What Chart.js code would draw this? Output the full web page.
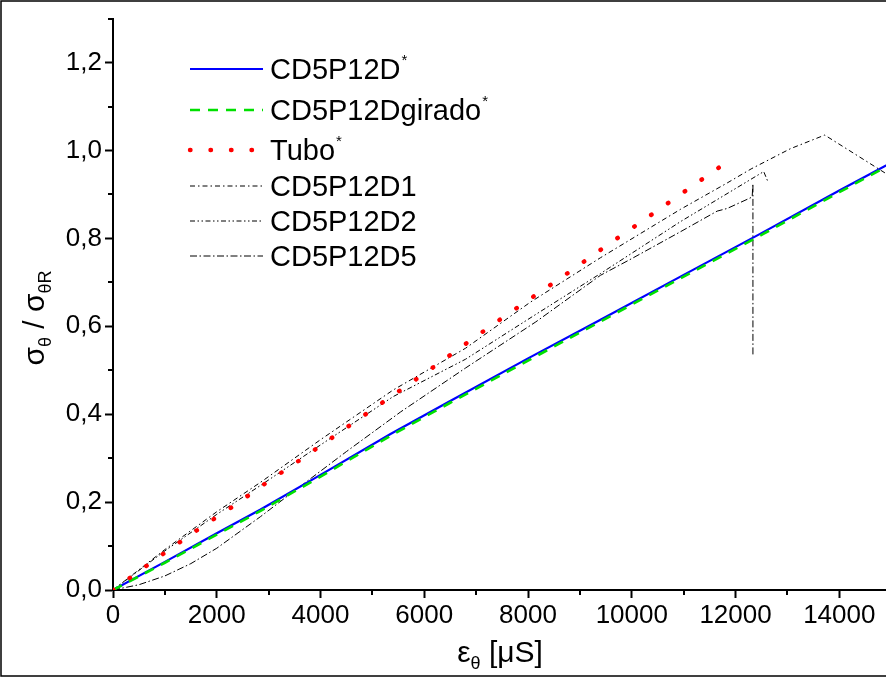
<!DOCTYPE html>
<html><head><meta charset="utf-8">
<script src="https://cdn.jsdelivr.net/npm/chart.js@4.4.1/dist/chart.umd.min.js"></script>
<style>html,body{margin:0;padding:0;background:#fff;}#wrap{position:relative;width:886px;height:677px;}</style>
</head><body><div id="wrap"><canvas id="c" width="886" height="677"></canvas></div>
<script>
// ---- data ----
const seriesNames = ["CD5P12D", "CD5P12Dgirado", "Tubo", "CD5P12D1", "CD5P12D2", "CD5P12D5"];
const starred = [true, true, true, false, false, false];

const cdX = [0, 1000, 2000, 2844, 4000, 5349, 6500, 8000, 9397, 11000, 12500, 14000, 15000];
const cdY = [0, 0.064, 0.129, 0.183, 0.262, 0.355, 0.430, 0.527, 0.615, 0.717, 0.812, 0.909, 0.972];

const giradoX = [0, 1000, 2000, 2844, 4000, 5349, 6500, 8000, 9397, 11000, 12500, 14000, 15000];
const giradoY = [0, 0.062, 0.126, 0.180, 0.258, 0.351, 0.426, 0.522, 0.611, 0.713, 0.808, 0.905, 0.969];

const tuboX = [0, 352, 1000, 1655, 2311, 2966, 3621, 4276, 4931, 5581, 6236, 6891, 7541, 8196, 8851, 9506, 10161, 10816, 11471, 11850];
const tuboY = [0, 0.030, 0.085, 0.139, 0.190, 0.245, 0.297, 0.351, 0.405, 0.458, 0.512, 0.568, 0.622, 0.675, 0.728, 0.783, 0.836, 0.890, 0.944, 0.975];

const d1X = [0, 1000, 2000, 2844, 4000, 5400, 6795, 8047, 9397, 10937, 11838, 12300, 13057, 13719, 15000];
const d1Y = [0, 0.092, 0.178, 0.245, 0.342, 0.455, 0.550, 0.655, 0.756, 0.866, 0.926, 0.958, 1.004, 1.035, 0.940];

const d2X = [0, 1000, 2000, 2844, 4000, 5400, 6795, 8150, 9397, 10937, 11770, 12543, 12620];
const d2Y = [0, 0.089, 0.172, 0.238, 0.330, 0.440, 0.525, 0.627, 0.720, 0.838, 0.897, 0.952, 0.930];

const d5X = [0, 500, 1000, 1500, 2000, 2844, 3400, 4500, 5542, 6795, 8150, 9397, 10000, 10937, 11645, 11838, 12320, 12335, 12335];
const d5Y = [0, 0.012, 0.032, 0.060, 0.095, 0.167, 0.217, 0.315, 0.405, 0.505, 0.610, 0.716, 0.754, 0.815, 0.862, 0.868, 0.894, 0.924, 0.534];

const xTicks = [0, 2000, 4000, 6000, 8000, 10000, 12000, 14000];
const xMinorTicks = [1000, 3000, 5000, 7000, 9000, 11000, 13000];
const yTicks = [0, 0.2, 0.4, 0.6, 0.8, 1.0, 1.2];
const yMinorTicks = [0.1, 0.3, 0.5, 0.7, 0.9, 1.1, 1.3];
const xMin = 0, xMax = 14900, yMin = 0, yMax = 1.3;

const pts = (xs, ys) => xs.map((x, i) => ({x: x, y: ys[i]}));

const styles = [
  {color: '#0000ff', width: 2.2, dash: [], cap: 'butt'},
  {color: '#00e000', width: 2.6, dash: [10, 8], cap: 'butt'},
  {color: '#ff0000', width: 4.4, dash: [0.5, 20], cap: 'round'},
  {color: '#000000', width: 1, dash: [5, 3, 1.5, 3], cap: 'butt'},
  {color: '#000000', width: 1, dash: [5, 2.5, 1.5, 2.5, 1.5, 2.5], cap: 'butt'},
  {color: '#000000', width: 1, dash: [7, 2.5, 1.5, 2.5], cap: 'butt'}
];
const allData = [pts(cdX, cdY), pts(giradoX, giradoY), pts(tuboX, tuboY), pts(d1X, d1Y), pts(d2X, d2Y), pts(d5X, d5Y)];
const drawOrder = [3, 4, 5, 0, 1, 2];

const datasets = drawOrder.map(i => ({
  label: seriesNames[i],
  data: allData[i],
  borderColor: styles[i].color,
  borderWidth: styles[i].width,
  borderDash: styles[i].dash,
  borderCapStyle: styles[i].cap,
  pointRadius: 0,
  fill: false,
  tension: 0,
  order: drawOrder.length - drawOrder.indexOf(i)
}));

const tickFont = {family: "'Liberation Sans Narrow', 'Liberation Sans', Arial, sans-serif", size: 26};
const legendFont = "29px 'Liberation Sans', Arial, sans-serif";

const decorations = {
  id: 'decorations',
  afterDraw(chart) {
    const ctx = chart.ctx;
    const xs = chart.scales.x, ys = chart.scales.y;
    ctx.save();
    // minor ticks
    ctx.strokeStyle = '#000'; ctx.lineWidth = 2; ctx.setLineDash([]);
    const bottom = chart.chartArea.bottom, left = chart.chartArea.left;
    xMinorTicks.forEach(v => {
      const px = Math.round(xs.getPixelForValue(v));
      ctx.beginPath(); ctx.moveTo(px, bottom); ctx.lineTo(px, bottom + 5); ctx.stroke();
    });
    yMinorTicks.forEach(v => {
      const py = Math.round(ys.getPixelForValue(v));
      ctx.beginPath(); ctx.moveTo(left, py); ctx.lineTo(left - 5, py); ctx.stroke();
    });
    // legend
    const rows = [69, 110, 150, 186, 221, 256];
    for (let i = 0; i < seriesNames.length; i++) {
      const st = styles[i], y = rows[i];
      ctx.strokeStyle = st.color; ctx.lineWidth = st.width; ctx.setLineDash(st.dash); ctx.lineCap = st.cap;
      ctx.beginPath(); ctx.moveTo(190, y); ctx.lineTo(263, y); ctx.stroke();
      ctx.setLineDash([]); ctx.lineCap = 'butt';
      ctx.fillStyle = '#000'; ctx.font = legendFont; ctx.textBaseline = 'alphabetic'; ctx.textAlign = 'left';
      ctx.fillText(seriesNames[i], 270, y + 10);
      if (starred[i]) {
        const w = ctx.measureText(seriesNames[i]).width;
        ctx.font = "15px 'Liberation Sans', Arial, sans-serif";
        ctx.fillText('*', 270 + w + 1, y - 4);
      }
    }
    // x title
    ctx.fillStyle = '#000';
    const big = "30px 'Liberation Sans', Arial, sans-serif", small = "18px 'Liberation Sans', Arial, sans-serif";
    const xt = [['ε', big, 0], ['θ', small, 7], [' [μS]', big, 0]];
    let tw = 0;
    xt.forEach(p => { ctx.font = p[1]; tw += ctx.measureText(p[0]).width; });
    let cx = 500 - tw / 2;
    xt.forEach(p => { ctx.font = p[1]; ctx.fillText(p[0], cx, 662 + p[2]); cx += ctx.measureText(p[0]).width; });
    // y title
    ctx.save();
    ctx.translate(44, 318); ctx.rotate(-Math.PI / 2);
    const yt = [['σ', big, 0], ['θ', small, 7], [' / ', big, 0], ['σ', big, 0], ['θR', small, 7]];
    tw = 0;
    yt.forEach(p => { ctx.font = p[1]; tw += ctx.measureText(p[0]).width; });
    cx = -tw / 2;
    yt.forEach(p => { ctx.font = p[1]; ctx.fillText(p[0], cx, p[2]); cx += ctx.measureText(p[0]).width; });
    ctx.restore();
    // frame
    ctx.strokeStyle = '#000'; ctx.lineWidth = 1.5;
    ctx.strokeRect(1, 1, 886, 675);
    ctx.restore();
  }
};

new Chart(document.getElementById('c'), {
  type: 'line',
  data: {datasets: datasets},
  options: {
    responsive: false,
    animation: false,
    events: [],
    layout: {padding: {top: 16, right: 0, left: 0, bottom: 0}},
    plugins: {legend: {display: false}, tooltip: {enabled: false}},
    scales: {
      x: {
        type: 'linear', min: xMin, max: xMax,
        afterBuildTicks: s => { s.ticks = xTicks.map(v => ({value: v})); },
        ticks: {autoSkip: false, font: tickFont, color: '#000', padding: 2, maxRotation: 0,
                callback: v => String(v)},
        grid: {drawOnChartArea: false, drawTicks: true, tickLength: 8, tickWidth: 2, tickColor: '#000'},
        border: {display: true, color: '#000', width: 2},
        afterFit: s => { s.height = 87; }
      },
      y: {
        type: 'linear', min: yMin, max: yMax,
        afterBuildTicks: s => { s.ticks = yTicks.map(v => ({value: v})); },
        ticks: {autoSkip: false, font: tickFont, color: '#000', padding: 3,
                callback: v => v.toFixed(1).replace('.', ',')},
        grid: {drawOnChartArea: false, drawTicks: true, tickLength: 8, tickWidth: 2, tickColor: '#000'},
        border: {display: true, color: '#000', width: 2},
        afterFit: s => { s.width = 113; }
      }
    }
  },
  plugins: [decorations]
});
</script>
</body></html>
